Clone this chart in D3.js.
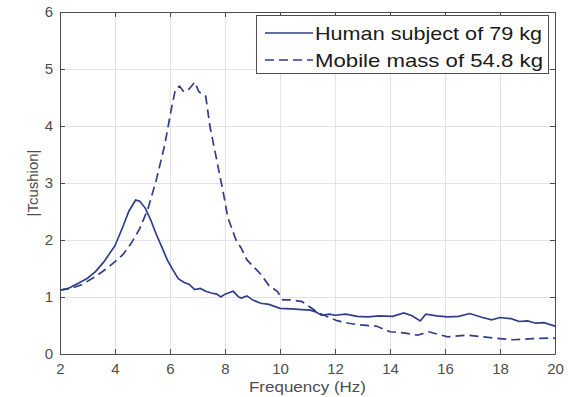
<!DOCTYPE html>
<html>
<head>
<meta charset="utf-8">
<script src="https://cdn.jsdelivr.net/npm/d3@7"></script>
<style>
  body { margin: 0; background: #fff; }
  svg { display: block; font-family: "Liberation Sans", Arial, sans-serif; }
  .grid line { stroke: #e3e3e3; stroke-width: 1; }
  .grid path { display: none; }
  .axis path, .axis line { stroke: #4d4d4d; }
  .axis text { fill: #4d4d4d; font-size: 15px; }
</style>
</head>
<body>
<div class="chart"></div>
<script>
const width = 576;
const height = 397;
const margin = { top: 12, right: 21, bottom: 43, left: 60 };

const xTicks = [2, 4, 6, 8, 10, 12, 14, 16, 18, 20];
const yTicks = [0, 1, 2, 3, 4, 5, 6];
const seriesNames = ["Human subject of 79 kg", "Mobile mass of 54.8 kg"];

// Human subject (solid)
const humanFreq = [2.0, 2.3, 2.7, 3.0, 3.3, 3.6, 4.0, 4.3, 4.5, 4.75, 4.9, 5.1, 5.3, 5.5, 5.7, 5.9, 6.1, 6.3, 6.5, 6.7, 6.9, 7.1, 7.3, 7.5, 7.7, 7.85, 8.0, 8.3, 8.5, 8.6, 8.8, 9.0, 9.3, 9.6, 10.0, 10.4, 10.8, 11.1, 11.3, 11.5, 11.8, 12.0, 12.4, 12.8, 13.2, 13.6, 14.1, 14.5, 14.8, 15.1, 15.3, 15.7, 16.1, 16.5, 16.9, 17.3, 17.7, 18.0, 18.4, 18.7, 19.0, 19.3, 19.6, 20.0];
const humanT = [1.12, 1.15, 1.25, 1.33, 1.45, 1.62, 1.9, 2.25, 2.5, 2.7, 2.68, 2.56, 2.35, 2.1, 1.88, 1.65, 1.48, 1.32, 1.26, 1.22, 1.13, 1.15, 1.1, 1.07, 1.05, 1.0, 1.05, 1.1, 1.0, 0.98, 1.02, 0.95, 0.89, 0.87, 0.8, 0.79, 0.78, 0.77, 0.74, 0.68, 0.7, 0.68, 0.7, 0.66, 0.65, 0.67, 0.66, 0.72, 0.67, 0.58, 0.7, 0.67, 0.65, 0.66, 0.71, 0.65, 0.6, 0.64, 0.62, 0.57, 0.58, 0.54, 0.55, 0.49];

// Mobile mass (dashed)
const massFreq = [2.0, 2.4, 2.8, 3.3, 3.7, 4.0, 4.3, 4.6, 4.9, 5.2, 5.5, 5.8, 6.05, 6.2, 6.35, 6.5, 6.7, 6.9, 7.05, 7.3, 7.45, 7.7, 7.95, 8.1, 8.4, 8.6, 8.8, 9.0, 9.3, 9.6, 9.9, 10.1, 10.4, 10.8, 11.1, 11.4, 11.8, 12.1, 12.5, 12.9, 13.5, 14.0, 14.5, 15.0, 15.4, 15.8, 16.1, 16.8, 17.4, 18.0, 18.5, 19.2, 20.0];
const massT = [1.12, 1.15, 1.22, 1.36, 1.5, 1.62, 1.75, 1.95, 2.2, 2.55, 3.05, 3.65, 4.3, 4.65, 4.7, 4.6, 4.65, 4.77, 4.6, 4.52, 4.0, 3.4, 2.8, 2.4, 2.0, 1.85, 1.65, 1.55, 1.4, 1.2, 1.1, 0.95, 0.95, 0.92, 0.82, 0.72, 0.64, 0.58, 0.54, 0.51, 0.49, 0.39, 0.37, 0.33, 0.39, 0.34, 0.3, 0.33, 0.3, 0.27, 0.25, 0.27, 0.28];

const lineColor = "#2f3d8c";
const dash = "9,5";

const svg = d3.select(".chart").append("svg")
  .attr("width", width)
  .attr("height", height);

const iw = width - margin.left - margin.right;
const ih = height - margin.top - margin.bottom;

const x = d3.scaleLinear().domain([2, 20]).range([0, iw]);
const y = d3.scaleLinear().domain([0, 6]).range([ih, 0]);

const g = svg.append("g").attr("transform", `translate(${margin.left},${margin.top})`);

// grid
g.append("g").attr("class", "grid")
  .attr("transform", `translate(0,${ih})`)
  .call(d3.axisBottom(x).tickValues(xTicks).tickSize(-ih).tickFormat(""));
g.append("g").attr("class", "grid")
  .call(d3.axisLeft(y).tickValues(yTicks).tickSize(-iw).tickFormat(""));

// lines
const line = d3.line().x(d => x(d[0])).y(d => y(d[1]));
const human = humanFreq.map((f, i) => [f, humanT[i]]);
const mass = massFreq.map((f, i) => [f, massT[i]]);

g.append("path").datum(mass)
  .attr("d", line)
  .attr("fill", "none")
  .attr("stroke", lineColor)
  .attr("stroke-width", 1.7)
  .attr("stroke-dasharray", dash);

g.append("path").datum(human)
  .attr("d", line)
  .attr("fill", "none")
  .attr("stroke", lineColor)
  .attr("stroke-width", 1.7);

// axes, ticks pointing inward
const fmt = d3.format("d");
g.append("g").attr("class", "axis")
  .attr("transform", `translate(0,${ih})`)
  .call(d3.axisBottom(x).tickValues(xTicks).tickFormat(fmt).tickSize(-5).tickPadding(9).tickSizeOuter(0));
g.append("g").attr("class", "axis")
  .call(d3.axisTop(x).tickValues(xTicks).tickSize(-5).tickFormat("").tickSizeOuter(0));
g.append("g").attr("class", "axis")
  .call(d3.axisLeft(y).tickValues(yTicks).tickFormat(fmt).tickSize(-5).tickPadding(7).tickSizeOuter(0));
g.append("g").attr("class", "axis")
  .attr("transform", `translate(${iw},0)`)
  .call(d3.axisRight(y).tickValues(yTicks).tickSize(-5).tickFormat("").tickSizeOuter(0));

// axis labels
svg.append("text")
  .attr("x", margin.left + iw / 2)
  .attr("y", 392)
  .attr("text-anchor", "middle")
  .attr("fill", "#4d4d4d")
  .attr("font-size", 15)
  .attr("textLength", 117)
  .attr("lengthAdjust", "spacingAndGlyphs")
  .text("Frequency (Hz)");

svg.append("text")
  .attr("transform", `translate(38,${margin.top + ih / 2}) rotate(-90)`)
  .attr("text-anchor", "middle")
  .attr("fill", "#4d4d4d")
  .attr("font-size", 15)
  .text("|Tcushion|");

// legend
const legend = svg.append("g");
legend.append("rect")
  .attr("x", 256.5).attr("y", 15.5)
  .attr("width", 292).attr("height", 58)
  .attr("fill", "#fff")
  .attr("stroke", "#4d4d4d");

seriesNames.forEach((name, i) => {
  const cy = 33 + i * 27;
  legend.append("line")
    .attr("x1", 265).attr("x2", 313)
    .attr("y1", cy).attr("y2", cy)
    .attr("stroke", lineColor)
    .attr("stroke-width", 1.6)
    .attr("stroke-dasharray", i === 1 ? dash : null);
  legend.append("text")
    .attr("x", 315)
    .attr("y", cy + 7)
    .attr("font-size", 19)
    .attr("fill", "#1a1a1a")
    .attr("textLength", i === 0 ? 227 : 228)
    .attr("lengthAdjust", "spacingAndGlyphs")
    .text(name);
});
</script>
</body>
</html>
